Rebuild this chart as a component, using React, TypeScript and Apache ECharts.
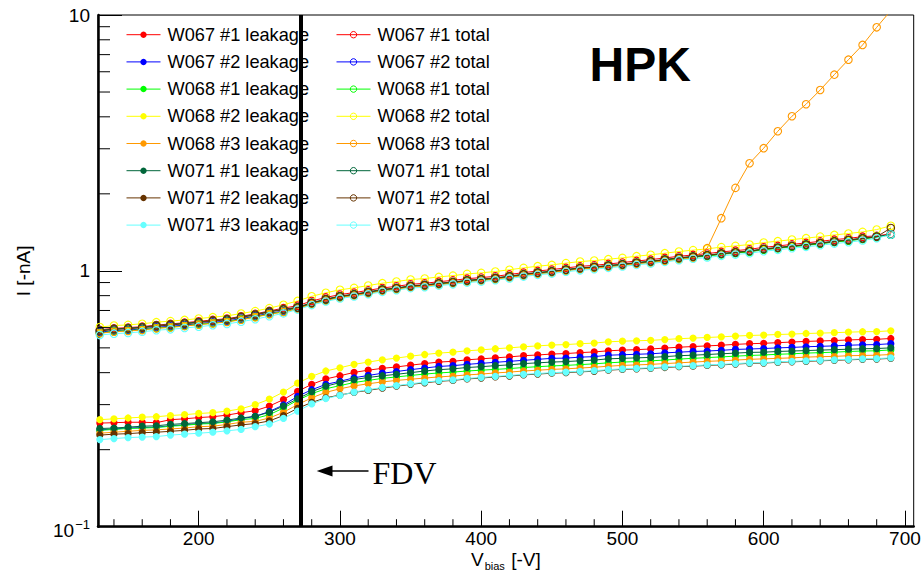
import React, { useEffect, useRef } from "react";
import * as echarts from "echarts";

const FONT = "'Liberation Sans', Arial, Helvetica, sans-serif";

// bias voltage [V]
const voltages = [130,140,150,160,170,180,190,200,210,220,230,240,250,260,270,280,290,300,310,320,330,340,350,360,370,380,390,400,410,420,430,440,450,460,470,480,490,500,510,520,530,540,550,560,570,580,590,600,610,620,630,640,650,660,670,680,690];

// leakage currents [nA]
const leakW067_1 = [0.254,0.255,0.256,0.256,0.255,0.262,0.264,0.267,0.269,0.273,0.279,0.284,0.296,0.314,0.338,0.360,0.378,0.389,0.401,0.409,0.416,0.421,0.428,0.434,0.440,0.443,0.449,0.453,0.457,0.461,0.466,0.469,0.473,0.475,0.479,0.482,0.487,0.490,0.492,0.495,0.499,0.503,0.506,0.509,0.512,0.516,0.519,0.521,0.524,0.527,0.530,0.532,0.534,0.537,0.539,0.540,0.544];
const leakW067_2 = [0.239,0.241,0.243,0.244,0.245,0.248,0.250,0.253,0.254,0.258,0.264,0.270,0.282,0.299,0.323,0.343,0.360,0.370,0.382,0.390,0.398,0.404,0.411,0.417,0.423,0.426,0.431,0.435,0.439,0.443,0.447,0.451,0.455,0.456,0.460,0.462,0.468,0.470,0.472,0.474,0.478,0.481,0.484,0.486,0.489,0.493,0.495,0.497,0.500,0.502,0.505,0.507,0.509,0.512,0.514,0.515,0.519];
const leakW068_1 = [0.238,0.240,0.242,0.243,0.244,0.247,0.249,0.252,0.253,0.257,0.262,0.265,0.274,0.291,0.312,0.331,0.346,0.356,0.366,0.373,0.380,0.385,0.390,0.395,0.399,0.402,0.406,0.409,0.412,0.415,0.419,0.422,0.425,0.427,0.430,0.433,0.437,0.440,0.442,0.445,0.448,0.452,0.455,0.458,0.461,0.464,0.467,0.469,0.472,0.474,0.477,0.479,0.481,0.484,0.486,0.487,0.491];
const leakW068_2 = [0.262,0.264,0.266,0.268,0.269,0.272,0.274,0.277,0.279,0.283,0.289,0.300,0.315,0.336,0.364,0.387,0.406,0.418,0.431,0.440,0.449,0.456,0.464,0.471,0.477,0.481,0.487,0.491,0.496,0.500,0.505,0.509,0.513,0.515,0.519,0.522,0.528,0.531,0.533,0.535,0.539,0.543,0.546,0.549,0.552,0.556,0.559,0.561,0.564,0.566,0.569,0.571,0.573,0.576,0.578,0.579,0.583];
const leakW068_3 = [0.232,0.234,0.236,0.238,0.239,0.241,0.243,0.246,0.247,0.251,0.256,0.258,0.266,0.280,0.300,0.319,0.335,0.346,0.355,0.362,0.368,0.373,0.377,0.381,0.385,0.388,0.392,0.395,0.399,0.402,0.406,0.409,0.412,0.414,0.417,0.420,0.424,0.427,0.429,0.431,0.434,0.437,0.440,0.443,0.445,0.448,0.451,0.453,0.455,0.457,0.460,0.462,0.463,0.466,0.467,0.468,0.471];
const leakW071_1 = [0.242,0.243,0.245,0.247,0.248,0.251,0.253,0.255,0.257,0.261,0.266,0.270,0.280,0.296,0.316,0.337,0.354,0.366,0.376,0.383,0.389,0.394,0.400,0.406,0.411,0.414,0.419,0.422,0.426,0.429,0.434,0.437,0.440,0.442,0.445,0.448,0.453,0.455,0.457,0.459,0.462,0.466,0.468,0.471,0.474,0.477,0.480,0.481,0.484,0.486,0.488,0.490,0.492,0.494,0.496,0.497,0.500];
const leakW071_2 = [0.228,0.230,0.231,0.233,0.234,0.236,0.238,0.241,0.242,0.246,0.250,0.253,0.259,0.272,0.290,0.306,0.319,0.327,0.335,0.341,0.348,0.354,0.360,0.365,0.370,0.373,0.378,0.381,0.385,0.388,0.392,0.395,0.398,0.400,0.403,0.405,0.409,0.412,0.414,0.416,0.419,0.422,0.424,0.427,0.429,0.432,0.435,0.436,0.439,0.441,0.443,0.445,0.447,0.449,0.451,0.452,0.455];
const leakW071_3 = [0.219,0.221,0.223,0.224,0.225,0.228,0.230,0.232,0.234,0.237,0.240,0.246,0.252,0.265,0.283,0.302,0.317,0.326,0.336,0.343,0.350,0.356,0.362,0.367,0.372,0.375,0.380,0.383,0.387,0.390,0.394,0.397,0.400,0.402,0.405,0.407,0.411,0.414,0.416,0.418,0.421,0.424,0.426,0.429,0.431,0.434,0.437,0.438,0.441,0.443,0.445,0.447,0.449,0.451,0.453,0.454,0.457];

// total currents [nA]
const totW067_1 = [0.588,0.596,0.600,0.605,0.614,0.620,0.627,0.635,0.643,0.650,0.664,0.679,0.697,0.715,0.731,0.762,0.787,0.808,0.822,0.839,0.857,0.870,0.886,0.894,0.907,0.918,0.932,0.941,0.952,0.968,0.984,0.999,1.011,1.027,1.041,1.051,1.064,1.077,1.093,1.106,1.123,1.140,1.154,1.168,1.186,1.199,1.214,1.236,1.251,1.269,1.286,1.304,1.324,1.340,1.360,1.370,1.395];
const totW067_2 = [0.576,0.584,0.587,0.593,0.602,0.607,0.614,0.622,0.629,0.637,0.650,0.665,0.683,0.696,0.717,0.747,0.772,0.792,0.807,0.823,0.841,0.854,0.870,0.877,0.890,0.901,0.915,0.923,0.934,0.949,0.965,0.980,0.992,1.008,1.022,1.031,1.044,1.057,1.073,1.086,1.102,1.119,1.133,1.146,1.164,1.177,1.191,1.213,1.228,1.246,1.261,1.279,1.299,1.315,1.335,1.358,1.385];
const totW068_1 = [0.572,0.580,0.584,0.589,0.598,0.603,0.610,0.618,0.625,0.633,0.646,0.661,0.679,0.692,0.713,0.743,0.768,0.788,0.803,0.819,0.837,0.850,0.866,0.873,0.886,0.897,0.911,0.919,0.930,0.945,0.961,0.976,0.988,1.004,1.018,1.027,1.040,1.053,1.069,1.082,1.098,1.115,1.129,1.142,1.160,1.173,1.187,1.209,1.224,1.242,1.257,1.275,1.295,1.311,1.331,1.354,1.384];
const totW068_2 = [0.603,0.611,0.615,0.621,0.630,0.636,0.643,0.651,0.659,0.667,0.681,0.696,0.715,0.737,0.763,0.795,0.821,0.843,0.858,0.876,0.895,0.908,0.925,0.933,0.947,0.958,0.973,0.982,0.994,1.010,1.027,1.043,1.055,1.072,1.087,1.097,1.111,1.124,1.141,1.155,1.172,1.190,1.205,1.219,1.238,1.252,1.267,1.290,1.306,1.325,1.342,1.361,1.382,1.399,1.420,1.450,1.500];
const totW068_3 = [0.570,0.578,0.582,0.587,0.596,0.601,0.608,0.616,0.623,0.631,0.644,0.659,0.677,0.690,0.711,0.741,0.766,0.786,0.801,0.817,0.835,0.848,0.864,0.871,0.884,0.895,0.909,0.917,0.928,0.943,0.959,0.974,0.986,1.002,1.016,1.025,1.038,1.050,1.065,1.077,1.092,1.108,1.122,1.227,1.606,2.110,2.634,3.016,3.512,4.021,4.480,5.093,5.846,6.690,7.636,8.950,10.40];
const totW071_1 = [0.585,0.593,0.597,0.602,0.611,0.617,0.624,0.631,0.639,0.647,0.661,0.675,0.694,0.708,0.721,0.751,0.776,0.797,0.811,0.828,0.846,0.858,0.874,0.882,0.895,0.905,0.919,0.928,0.939,0.954,0.971,0.986,0.997,1.013,1.027,1.037,1.050,1.062,1.078,1.091,1.108,1.125,1.139,1.152,1.170,1.183,1.197,1.219,1.234,1.252,1.268,1.286,1.306,1.322,1.342,1.362,1.388];
const totW071_2 = [0.582,0.590,0.594,0.599,0.608,0.614,0.621,0.628,0.636,0.644,0.658,0.672,0.691,0.705,0.718,0.748,0.773,0.794,0.808,0.825,0.843,0.855,0.871,0.879,0.892,0.902,0.916,0.925,0.936,0.951,0.968,0.983,0.994,1.010,1.024,1.034,1.047,1.059,1.075,1.088,1.105,1.122,1.136,1.149,1.167,1.180,1.194,1.216,1.231,1.249,1.265,1.283,1.303,1.319,1.339,1.359,1.470];
const totW071_3 = [0.561,0.568,0.572,0.578,0.586,0.591,0.598,0.605,0.613,0.620,0.633,0.647,0.665,0.682,0.706,0.735,0.759,0.780,0.794,0.810,0.828,0.840,0.856,0.863,0.876,0.886,0.900,0.908,0.919,0.934,0.950,0.965,0.976,0.992,1.005,1.015,1.028,1.040,1.055,1.068,1.084,1.101,1.115,1.128,1.145,1.158,1.172,1.193,1.208,1.226,1.241,1.259,1.278,1.294,1.314,1.341,1.386];

const sensors = ["W067 #1", "W067 #2", "W068 #1", "W068 #2", "W068 #3", "W071 #1", "W071 #2", "W071 #3"];
const colors = ["#ff0000", "#0000ff", "#00ff00", "#ffff00", "#ff9900", "#00663a", "#663300", "#66ffff"];
const leakageSeries = [leakW067_1, leakW067_2, leakW068_1, leakW068_2, leakW068_3, leakW071_1, leakW071_2, leakW071_3];
const totalSeries = [totW067_1, totW067_2, totW068_1, totW068_2, totW068_3, totW071_1, totW071_2, totW071_3];

const xMajorTicks = [200, 300, 400, 500, 600, 700];
const xMinorTicks = [140,160,180,220,240,260,280,320,340,360,380,420,440,460,480,520,540,560,580,620,640,660,680];
const yMinorTicks = [0.2,0.3,0.4,0.5,0.6,0.7,0.8,0.9,2,3,4,5,6,7,8,9];
const FDV = 272;

export default function App() {
  const ref = useRef<HTMLDivElement | null>(null);

  useEffect(() => {
    if (!ref.current) return;
    const chart = echarts.init(ref.current, null, { renderer: "svg" });
    const X_MIN = 128.7;
    const X_MAX = 706.2;
    const TRANSPARENT = "rgba(255,255,255,0)";

    const leakNames = sensors.map((s) => `${s} leakage`);
    const totNames = sensors.map((s) => `${s} total`);

    const lineSeries: any[] = [];
    leakageSeries.forEach((vals, i) => {
      lineSeries.push({
        type: "line",
        name: leakNames[i],
        data: voltages.map((v, k) => [v, vals[k]]),
        symbol: "circle",
        symbolSize: 7.2,
        clip: true,
        lineStyle: { color: colors[i], width: 1 },
        itemStyle: { color: colors[i] },
        emphasis: { disabled: true },
        z: 2,
      });
    });
    totalSeries.forEach((vals, i) => {
      lineSeries.push({
        type: "line",
        name: totNames[i],
        data: voltages.map((v, k) => [v, vals[k]]),
        symbol: "circle",
        symbolSize: 7.5,
        clip: true,
        lineStyle: { color: colors[i], width: 1 },
        itemStyle: { color: TRANSPARENT, borderColor: colors[i], borderWidth: 1.1 },
        emphasis: { disabled: true },
        z: 2,
      });
    });
    lineSeries[lineSeries.length - 1].markLine = {
      silent: true,
      z: 6,
      symbol: ["none", "none"],
      label: { show: false },
      lineStyle: { color: "#000", width: 4, type: "solid" },
      data: [{ xAxis: FDV }],
    };

    const tickSeries = {
      type: "custom",
      name: "minor ticks",
      silent: true,
      z: 6,
      dimensions: ["x", "y", "kind"],
      encode: { x: 0, y: 1 },
      data: [
        ...yMinorTicks.map((v) => [X_MIN, v, 0]),
        ...xMinorTicks.map((v) => [v, 0.1, 1]),
      ],
      renderItem: (_params: any, api: any) => {
        const kind = api.value(2);
        const p = api.coord([api.value(0), api.value(1)]);
        if (kind === 0) {
          return { type: "line", shape: { x1: p[0], y1: p[1], x2: p[0] + 12, y2: p[1] }, style: { stroke: "#000", lineWidth: 1 } };
        }
        return { type: "line", shape: { x1: p[0], y1: p[1], x2: p[0], y2: p[1] - 7.5 }, style: { stroke: "#000", lineWidth: 1 } };
      },
    };

    const legendCommon = {
      orient: "vertical",
      top: 24.7,
      padding: 0,
      itemGap: 7.2,
      itemWidth: 34,
      itemHeight: 8,
      selectedMode: false,
      textStyle: { fontFamily: FONT, fontSize: 18.2, color: "#000", lineHeight: 20, padding: [0, 0, 0, 2] },
    };

    const option: any = {
      animation: false,
      backgroundColor: "#fff",
      textStyle: { fontFamily: FONT },
      grid: {
        left: 98, top: 15, right: 9.3, bottom: 47.3,
        show: true, borderColor: "#000", borderWidth: 1,
        containLabel: false, outerBoundsMode: "none",
      },
      legend: [
        {
          ...legendCommon,
          left: 126,
          data: leakNames.map((n, i) => ({ name: n, itemStyle: { color: colors[i] }, lineStyle: { color: colors[i], width: 1 } })),
        },
        {
          ...legendCommon,
          left: 336,
          data: totNames.map((n, i) => ({
            name: n,
            itemStyle: { color: TRANSPARENT, borderColor: colors[i], borderWidth: 1 },
            lineStyle: { color: colors[i], width: 1 },
          })),
        },
      ],
      xAxis: {
        type: "value",
        min: X_MIN,
        max: X_MAX,
        axisLine: { show: true, onZero: false, lineStyle: { color: "#000", width: 2.5 } },
        axisTick: { show: true, inside: true, length: 16, customValues: xMajorTicks, lineStyle: { color: "#000", width: 1 } },
        axisLabel: { customValues: xMajorTicks, margin: 4, fontSize: 19, lineHeight: 15, color: "#000", fontFamily: FONT },
        splitLine: { show: false },
        name: "{v|V}{s|bias}{v| [-V]}",
        nameLocation: "middle",
        nameGap: 22.5,
        nameMoveOverlap: false,
        nameTextStyle: {
          color: "#000",
          rich: {
            v: { fontSize: 19, lineHeight: 20, fontFamily: FONT, color: "#000" },
            s: { fontSize: 11, lineHeight: 12, fontFamily: FONT, color: "#000", padding: [14, 1, 0, 1] },
          },
        },
      },
      yAxis: {
        type: "log",
        logBase: 10,
        min: 0.1,
        max: 10,
        axisLine: { show: true, onZero: false, lineStyle: { color: "#000", width: 2.5 } },
        axisTick: { show: true, inside: true, length: 24, lineStyle: { color: "#000", width: 1 } },
        axisLabel: {
          margin: 8,
          fontSize: 19,
          lineHeight: 20,
          color: "#000",
          fontFamily: FONT,
          showMinLabel: true,
          showMaxLabel: true,
          formatter: (v: number) => {
            if (Math.abs(v - 10) < 1e-6) return "10";
            if (Math.abs(v - 1) < 1e-6) return "1";
            if (Math.abs(v - 0.1) < 1e-6) return "{b|10}{s|\u22121}";
            return "";
          },
          rich: {
            b: { fontSize: 19, lineHeight: 20, fontFamily: FONT, color: "#000", padding: [8, 0, 0, 0] },
            s: { fontSize: 13, lineHeight: 14, fontFamily: FONT, color: "#000", padding: [0, 0, 4, 1] },
          },
        },
        splitLine: { show: false },
        name: "I [-nA]",
        nameLocation: "middle",
        nameGap: 65,
        nameRotate: 90,
        nameMoveOverlap: false,
        nameTextStyle: { fontSize: 19, lineHeight: 20, fontFamily: FONT, color: "#000" },
      },
      graphic: [
        { type: "line", shape: { x1: 330, y1: 471, x2: 368.5, y2: 471 }, style: { stroke: "#000", lineWidth: 1.3 } },
        { type: "polygon", shape: { points: [[316.7, 471], [332.5, 465.6], [332.5, 476.4]] }, style: { fill: "#000" } },
        {
          type: "text",
          x: 372.5,
          y: 472.5,
          style: { text: "FDV", fontFamily: "'Liberation Serif', 'DejaVu Serif', serif", fontSize: 32, fill: "#000", verticalAlign: "middle", align: "left" },
        },
        {
          type: "text",
          x: 589.5,
          y: 64.4,
          style: { text: "HPK", fontFamily: FONT, fontWeight: "bold", fontSize: 48, fill: "#000", verticalAlign: "middle", align: "left" },
        },
      ],
      series: [...lineSeries, tickSeries],
    };

    chart.setOption(option);
    return () => chart.dispose();
  }, []);

  return (
    <div
      ref={ref}
      style={{ position: "fixed", left: 0, top: 0, width: 923, height: 574, background: "#fff" }}
    />
  );
}
